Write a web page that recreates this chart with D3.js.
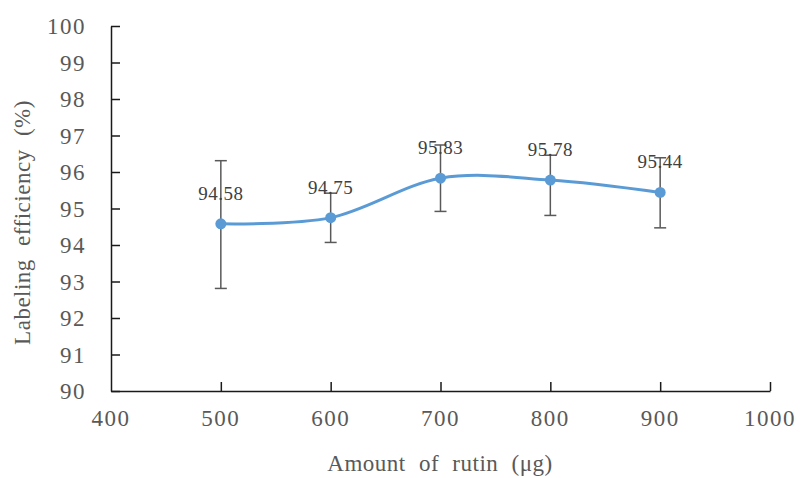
<!DOCTYPE html>
<html>
<head>
<meta charset="utf-8">
<script src="https://cdn.jsdelivr.net/npm/d3@7"></script>
<style>
  body { margin: 0; background: #fff; }
  text { font-family: "Liberation Serif", "Times New Roman", serif; }
</style>
</head>
<body>
<svg id="chart" width="801" height="478"></svg>
<script>
// data
const amounts = [500, 600, 700, 800, 900];
const efficiency = [94.58, 94.75, 95.83, 95.78, 95.44];
const errUp = [1.73, 0.67, 0.91, 0.68, 0.95];
const errDown = [1.77, 0.68, 0.91, 0.97, 0.97];
const xTicks = [400, 500, 600, 700, 800, 900, 1000];
const yTicks = [90, 91, 92, 93, 94, 95, 96, 97, 98, 99, 100];

const svg = d3.select("#chart");

// plot area
const plotLeft = 111, plotRight = 770, plotTop = 26, plotBottom = 391;

const x = d3.scaleLinear().domain([400, 1000]).range([plotLeft, plotRight]);
const y = d3.scaleLinear().domain([90, 100]).range([plotBottom, plotTop]);

const axisColor = "#1a1a1a";
const labelColor = "#595959";

// y axis, ticks pointing inward
const yAxis = svg.append("g")
    .attr("transform", `translate(${plotLeft},0)`)
    .call(d3.axisRight(y).tickValues(yTicks).tickSize(9).tickSizeOuter(0).tickFormat(""));
yAxis.select(".domain").attr("stroke", axisColor).attr("stroke-width", 1.5);
yAxis.selectAll(".tick line").attr("stroke", axisColor).attr("stroke-width", 1.5);

svg.append("g").selectAll("text")
    .data(yTicks)
    .join("text")
    .attr("x", plotLeft - 25)
    .attr("y", d => y(d))
    .attr("dy", "0.35em")
    .attr("text-anchor", "end")
    .attr("fill", labelColor)
    .style("font-size", "23px")
    .style("letter-spacing", "1.5px")
    .text(d => d);

// x axis, ticks pointing up
const xAxis = svg.append("g")
    .attr("transform", `translate(0,${plotBottom})`)
    .call(d3.axisTop(x).tickValues(xTicks).tickSize(9).tickSizeOuter(0).tickFormat(""));
xAxis.select(".domain").attr("stroke", axisColor).attr("stroke-width", 1.5);
xAxis.selectAll(".tick line").attr("stroke", axisColor).attr("stroke-width", 1.5);
xAxis.selectAll(".tick").filter(d => d === 400).select("line").remove();

svg.append("g").selectAll("text")
    .data(xTicks)
    .join("text")
    .attr("x", d => x(d))
    .attr("y", 426)
    .attr("text-anchor", "middle")
    .attr("fill", labelColor)
    .style("font-size", "23px")
    .style("letter-spacing", "1.5px")
    .text(d => d);

// axis titles
svg.append("text")
    .attr("x", 440)
    .attr("y", 471)
    .attr("text-anchor", "middle")
    .attr("fill", labelColor)
    .style("font-size", "23px")
    .style("letter-spacing", "0.5px")
    .style("word-spacing", "7px")
    .text("Amount of rutin (μg)");

svg.append("text")
    .attr("transform", `translate(30,${(plotTop + plotBottom) / 2 + 14}) rotate(-90)`)
    .attr("text-anchor", "middle")
    .attr("fill", labelColor)
    .style("font-size", "23px")
    .style("letter-spacing", "0.5px")
    .style("word-spacing", "7px")
    .text("Labeling efficiency (%)");

const points = amounts.map((a, i) => ({
    a: a, v: efficiency[i], up: errUp[i], down: errDown[i]
}));

// smoothed line
const line = d3.line()
    .x(d => x(d.a))
    .y(d => y(d.v))
    .curve(d3.curveCardinal);

svg.append("path")
    .datum(points)
    .attr("d", line)
    .attr("fill", "none")
    .attr("stroke", "#5b9bd5")
    .attr("stroke-width", 3);

// error bars
const errG = svg.append("g")
    .attr("stroke", "#595959")
    .attr("stroke-width", 1.5);

errG.selectAll("line.bar")
    .data(points)
    .join("line")
    .attr("class", "bar")
    .attr("x1", d => x(d.a)).attr("x2", d => x(d.a))
    .attr("y1", d => y(d.v + d.up)).attr("y2", d => y(d.v - d.down));

errG.selectAll("line.capTop")
    .data(points)
    .join("line")
    .attr("class", "capTop")
    .attr("x1", d => x(d.a) - 6).attr("x2", d => x(d.a) + 6)
    .attr("y1", d => y(d.v + d.up)).attr("y2", d => y(d.v + d.up));

errG.selectAll("line.capBottom")
    .data(points)
    .join("line")
    .attr("class", "capBottom")
    .attr("x1", d => x(d.a) - 6).attr("x2", d => x(d.a) + 6)
    .attr("y1", d => y(d.v - d.down)).attr("y2", d => y(d.v - d.down));

// markers
svg.append("g").selectAll("circle")
    .data(points)
    .join("circle")
    .attr("cx", d => x(d.a))
    .attr("cy", d => y(d.v))
    .attr("r", 5.5)
    .attr("fill", "#5b9bd5");

// value labels
svg.append("g").selectAll("text")
    .data(points)
    .join("text")
    .attr("x", d => x(d.a))
    .attr("y", d => y(d.v) - 24)
    .attr("text-anchor", "middle")
    .attr("fill", "#404040")
    .style("font-size", "19px")
    .style("letter-spacing", "0.5px")
    .text(d => d.v.toFixed(2));
</script>
</body>
</html>
